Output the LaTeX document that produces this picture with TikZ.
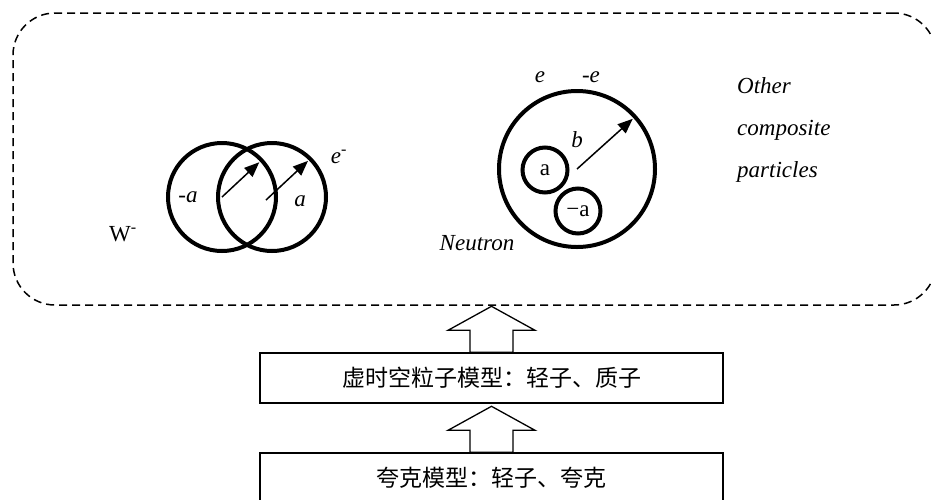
\documentclass[tikz,border=0pt]{standalone}
\usepackage{fontspec}
\setmainfont{Liberation Serif}
\newfontfamily\cjk{Noto Sans CJK SC}
\usetikzlibrary{calc,arrows.meta}
\begin{document}
\begin{tikzpicture}[x=1pt,y=-1pt,
  ring/.style={circle,draw,line width=4pt,inner sep=0pt,outer sep=0pt},
  vec/.style={line width=1.5pt,-{Triangle[length=15pt,width=12pt]},shorten >=3pt},
  lbl/.style={font=\fontsize{23}{27}\selectfont,inner sep=0pt},
  frame/.style={draw,dashed,dash pattern=on 8pt off 5pt,line width=1.5pt,rounded corners=42pt,inner sep=0pt},
  box/.style={draw,line width=1.4pt,minimum width=463pt,minimum height=50pt,inner sep=0pt,font=\fontsize{23}{27}\selectfont\cjk},
  barrow/.style={draw,line width=1.3pt,fill=white,line join=miter},
  uparrow/.pic={\draw[barrow] (-21.5,0) -- (-21.5,-22) -- (-43.5,-22) -- (0,-46) -- (43.5,-22) -- (21.5,-22) -- (21.5,0) -- cycle;}
]
\useasboundingbox (0,0) rectangle (931,499);

% dashed frame
\node[frame,minimum width=923pt,minimum height=292pt] (frame) at (474.5,159) {};

% W- pair
\node[ring,minimum size=108pt] (wl) at (222,197) {};
\node[ring,minimum size=108pt] (wr) at (272,197) {};
\draw[vec] (wl.center) -- (wl.43);
\coordinate (wrs) at ($(wr.center)+(-6,3)$);
\draw[vec] (wrs) -- (wr.45);
\node[lbl] (ma) at (188,197) {-\textit{a}};
\node[lbl] (pa) at (300,201) {\textit{a}};
\node[lbl] (em) at (339,157) {\textit{e}\textsuperscript{-}};
\node[lbl] (w) at (123,234) {W\textsuperscript{-}};

% Neutron
\node[ring,minimum size=156pt] (n) at (577,169) {};
\node[ring,minimum size=45pt,font=\fontsize{23}{27}\selectfont] (na) at (545,170) {a};
\node[ring,minimum size=45pt,font=\fontsize{23}{27}\selectfont] (nb) at (578,211) {−a};
\draw[vec] (n.center) -- (n.42);
\node[lbl] (lb) at (577,140) {\textit{b}};
\node[lbl] (le) at (540,77) {\textit{e}};
\node[lbl] (lme) at (591,77) {-\textit{e}};
\node[lbl] (neu) at (477,243) {\textit{Neutron}};

% Other composite particles
\node[lbl,anchor=west,align=left,font=\fontsize{23}{42}\selectfont\itshape] (oth) at (737,130) {Other\\composite\\particles};

% bottom boxes
\node[box] (b1) at (491.5,378) {虚时空粒子模型：轻子、质子};
\node[box] (b2) at (491.5,478) {夸克模型：轻子、夸克};

\pic at (b1.north) {uparrow};
\pic at (b2.north) {uparrow};
\end{tikzpicture}
\end{document}
